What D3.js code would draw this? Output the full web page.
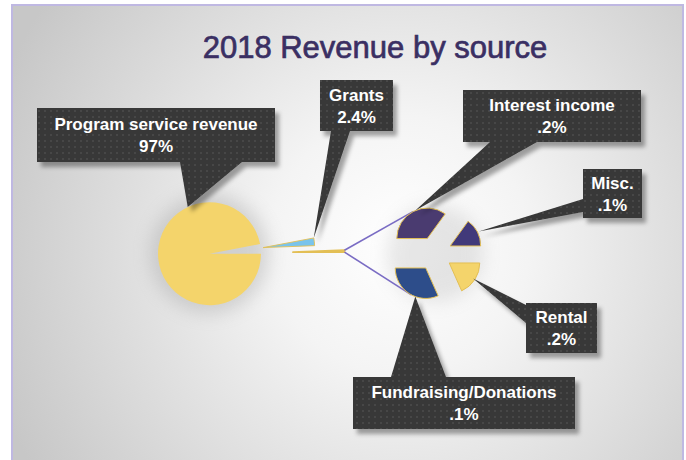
<!DOCTYPE html>
<html>
<head>
<meta charset="utf-8">
<script src="https://cdn.jsdelivr.net/npm/d3@7"></script>
<style>
  body { margin: 0; background: #fff; }
  svg { display: block; }
</style>
</head>
<body>
<div id="chart"></div>
<script>
// Chart values
const title = "2018 Revenue by source";
const mainCategories = ["Program service revenue", "Grants", "Other"];
const mainValues = [97.0, 2.4, 0.6];
const mainPercents = ["97%", "2.4%", ""];
const otherCategories = ["Interest income", "Misc.", "Rental", "Fundraising/Donations"];
const otherValues = [0.21, 0.09, 0.11, 0.19];
const otherPercents = [".2%", ".1%", ".2%", ".1%"];

const W = 686, H = 460;
const deg = Math.PI / 180;

const mainColors = ["#f4d46b", "#79c4ec", "#f4d46b"];
const otherColors = ["#4a3b70", "#41397a", "#f4d46b", "#2d4d8a"];
const sliceStroke = "#e3bf55";

// pie geometry
const main = { cx: 209.5, cy: 253.7, r: 51.5, explode: [0, 54, 83.5] };
const second = { cx: 435, cy: 253.7, r: 30.5, explode: 17 };

// callout layout: box, side where the pointer leaves, pointer base, where it points
const callouts = [
    { pie: "main", i: 0, x: 37, y: 108, w: 238, h: 54, side: "bottom", base: [180, 242], angle: 335, f: 1.0 },
    { pie: "main", i: 1, x: 320, y: 80, w: 73, h: 51, side: "bottom", base: [331, 350], angle: "start", f: 1.0 },
    { pie: "other", i: 0, x: 463, y: 90, w: 178, h: 52, side: "bottom", base: [490, 537], angle: -23, f: 1.0 },
    { pie: "other", i: 1, x: 583, y: 169, w: 59, h: 49, side: "left", base: [199, 212], angle: "mid", f: 1.05 },
    { pie: "other", i: 2, x: 526, y: 303, w: 71, h: 50, side: "left", base: [305, 323], angle: "mid", f: 0.93 },
    { pie: "other", i: 3, x: 353, y: 377, w: 222, h: 52, side: "top", base: [391, 446], angle: 200, f: 1.0 }
];

const svg = d3.select("#chart").append("svg")
    .attr("width", W).attr("height", H);

const defs = svg.append("defs");

const bg = defs.append("radialGradient").attr("id", "bg")
    .attr("gradientUnits", "userSpaceOnUse")
    .attr("cx", 400).attr("cy", 245).attr("r", 430);
bg.append("stop").attr("offset", "0").attr("stop-color", "#ffffff");
bg.append("stop").attr("offset", "0.3").attr("stop-color", "#f4f4f4");
bg.append("stop").attr("offset", "1").attr("stop-color", "#c7c7c7");

const dots = defs.append("pattern").attr("id", "dots")
    .attr("width", 6).attr("height", 6).attr("patternUnits", "userSpaceOnUse");
dots.append("rect").attr("width", 6).attr("height", 6).attr("fill", "#373737");
dots.append("rect").attr("x", 2).attr("y", 2).attr("width", 2).attr("height", 2).attr("fill", "#474747");

defs.append("filter").attr("id", "shadow")
    .attr("x", "-20%").attr("y", "-20%").attr("width", "150%").attr("height", "150%")
    .append("feDropShadow")
    .attr("dx", 4).attr("dy", 5).attr("stdDeviation", 2)
    .attr("flood-color", "#000").attr("flood-opacity", 0.35);

defs.append("filter").attr("id", "halo")
    .attr("x", "-50%").attr("y", "-50%").attr("width", "200%").attr("height", "200%")
    .append("feGaussianBlur").attr("stdDeviation", 9);

// background panel
svg.append("rect")
    .attr("x", 12).attr("y", 5).attr("width", 671).attr("height", 480)
    .attr("fill", "url(#bg)").attr("stroke", "#bfb8e2").attr("stroke-width", 2);

svg.append("text")
    .attr("x", 375).attr("y", 58)
    .attr("text-anchor", "middle")
    .attr("font-family", "'Liberation Sans', Arial, sans-serif")
    .attr("font-size", 31)
    .attr("fill", "#3a2f63")
    .attr("stroke", "#3a2f63").attr("stroke-width", 0.7)
    .text(title);

// soft halos behind the pies
svg.append("circle").attr("cx", main.cx).attr("cy", main.cy).attr("r", main.r + 8)
    .attr("fill", "#8c8c8c").attr("opacity", 0.3).attr("filter", "url(#halo)");
svg.append("circle").attr("cx", second.cx).attr("cy", second.cy).attr("r", second.r + 18)
    .attr("fill", "#8c8c8c").attr("opacity", 0.2).attr("filter", "url(#halo)");

let offset = (a, d) => [Math.sin(a) * d, -Math.cos(a) * d];
let mid = d => (d.startAngle + d.endAngle) / 2;

// main pie, starting at 3 o'clock
const mainSlices = d3.pie().sort(null).value(d => d)
    .startAngle(90 * deg).endAngle(450 * deg)(mainValues);
mainSlices.forEach((d, i) => {
    let o = offset(mid(d), main.explode[i]);
    d.cx = main.cx + o[0]; d.cy = main.cy + o[1]; d.r = main.r;
});

const mainArc = d3.arc().innerRadius(0).outerRadius(main.r);

svg.append("g").selectAll("path").data(mainSlices).enter().append("path")
    .attr("transform", d => "translate(" + d.cx + "," + d.cy + ")")
    .attr("d", mainArc)
    .attr("fill", (d, i) => mainColors[i])
    .attr("stroke", (d, i) => i == 0 ? "none" : sliceStroke)
    .attr("stroke-width", (d, i) => i == 2 ? 1.8 : 0.9)
    .attr("stroke-linejoin", "round");

// secondary pie, starting at 9 o'clock
const otherSlices = d3.pie().sort(null).value(d => d)
    .startAngle(-90 * deg).endAngle(270 * deg)(otherValues);
otherSlices.forEach(d => {
    let o = offset(mid(d), second.explode);
    d.cx = second.cx + o[0]; d.cy = second.cy + o[1]; d.r = second.r;
});

const otherArc = d3.arc().innerRadius(0).outerRadius(second.r);

// series lines from the "Other" slice to the secondary pie
const os = mainSlices[2];
const lineStarts = [os.startAngle, os.endAngle].map(a => {
    let o = offset(a, main.r);
    return [os.cx + o[0], os.cy + o[1]];
});
const lineEnds = [[otherSlices[0], -28 * deg], [otherSlices[3], 208 * deg]].map(([d, a]) => {
    let o = offset(a, second.r);
    return [d.cx + o[0], d.cy + o[1]];
});
svg.append("g").selectAll("line").data([0, 1]).enter().append("line")
    .attr("x1", i => lineStarts[i][0]).attr("y1", i => lineStarts[i][1])
    .attr("x2", i => lineEnds[i][0]).attr("y2", i => lineEnds[i][1])
    .attr("stroke", "#7a6cc4").attr("stroke-width", 1.6);

svg.append("g").selectAll("path").data(otherSlices).enter().append("path")
    .attr("transform", d => "translate(" + d.cx + "," + d.cy + ")")
    .attr("d", otherArc)
    .attr("fill", (d, i) => otherColors[i])
    .attr("stroke", sliceStroke).attr("stroke-width", 1)
    .attr("stroke-linejoin", "round");

// callouts
function tipOf(c) {
    let d = c.pie == "main" ? mainSlices[c.i] : otherSlices[c.i];
    let a = c.angle == "mid" ? mid(d) : c.angle == "start" ? d.startAngle : c.angle * deg;
    let o = offset(a, d.r * c.f);
    return [d.cx + o[0], d.cy + o[1]];
}

function calloutPath(c) {
    let t = tipOf(c), p = d3.path();
    let x0 = c.x, y0 = c.y, x1 = c.x + c.w, y1 = c.y + c.h;
    p.moveTo(x0, y0);
    if (c.side == "top") {
        p.lineTo(c.base[0], y0); p.lineTo(t[0], t[1]); p.lineTo(c.base[1], y0);
    }
    p.lineTo(x1, y0); p.lineTo(x1, y1);
    if (c.side == "bottom") {
        p.lineTo(c.base[1], y1); p.lineTo(t[0], t[1]); p.lineTo(c.base[0], y1);
    }
    p.lineTo(x0, y1);
    if (c.side == "left") {
        p.lineTo(x0, c.base[1]); p.lineTo(t[0], t[1]); p.lineTo(x0, c.base[0]);
    }
    p.closePath();
    return p.toString();
}

const labels = svg.append("g").selectAll("g").data(callouts).enter().append("g");

labels.append("path")
    .attr("d", calloutPath)
    .attr("fill", "url(#dots)")
    .attr("filter", "url(#shadow)");

labels.append("text")
    .attr("text-anchor", "middle")
    .attr("font-family", "'Liberation Sans', Arial, sans-serif")
    .attr("font-size", 17).attr("font-weight", "bold")
    .attr("fill", "white")
    .each(function(c) {
        let name = c.pie == "main" ? mainCategories[c.i] : otherCategories[c.i];
        let pct = c.pie == "main" ? mainPercents[c.i] : otherPercents[c.i];
        let t = d3.select(this), cx = c.x + c.w / 2, cy = c.y + c.h / 2;
        t.append("tspan").attr("x", cx).attr("y", cy - 5).text(name);
        t.append("tspan").attr("x", cx).attr("y", cy + 17).text(pct);
    });
</script>
</body>
</html>
